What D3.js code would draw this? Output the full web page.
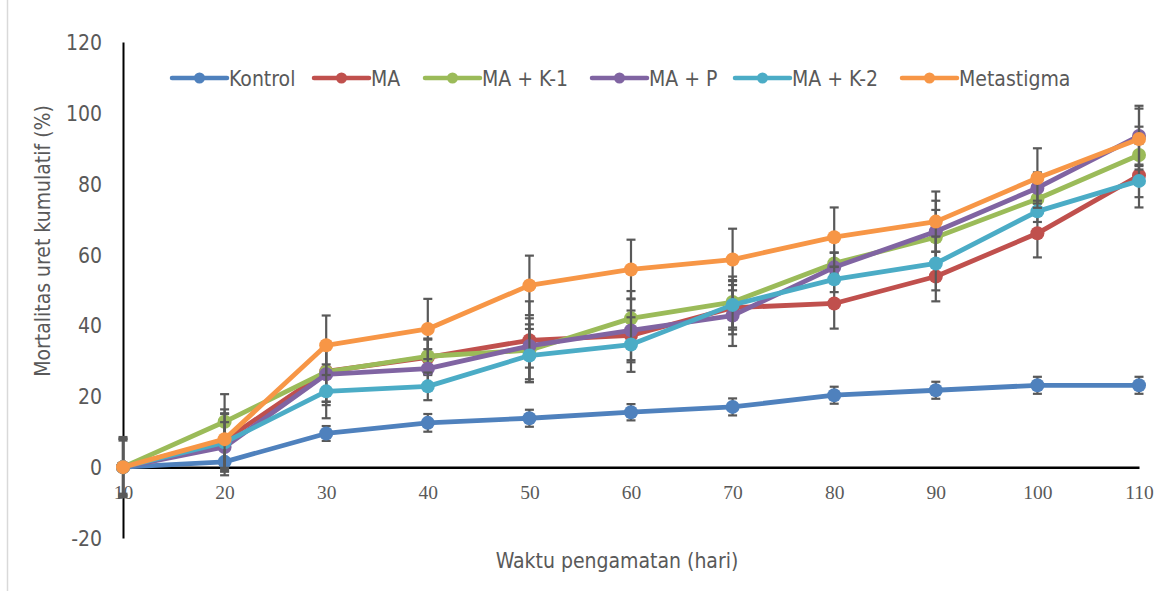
<!DOCTYPE html>
<html>
<head>
<meta charset="utf-8">
<script src="https://cdn.jsdelivr.net/npm/d3@7"></script>
<style>
  html, body { margin: 0; padding: 0; background: #fff; }
  svg { display: block; }
  .sans { font-family: 'DejaVu Sans Condensed', 'DejaVu Sans', sans-serif; font-stretch: condensed; fill: #595959; }
  .serif { font-family: 'Liberation Serif', 'DejaVu Serif', serif; fill: #595959; }
</style>
</head>
<body>
<svg id="chart"></svg>
<script>
// observation days
const days = [10, 20, 30, 40, 50, 60, 70, 80, 90, 100, 110];
const yTicks = [-20, 0, 20, 40, 60, 80, 100, 120];

// cumulative mortality (%) per treatment
const kontrol    = [0, 1.5, 9.5, 12.5, 13.8, 15.5, 17.0, 20.3, 21.7, 23.1, 23.1];
const ma         = [0, 7.5, 27.0, 31.0, 35.8, 37.2, 45.0, 46.2, 53.8, 66.0, 82.3];
const maK1       = [0, 12.8, 26.9, 31.3, 33.0, 42.0, 46.6, 57.5, 64.9, 75.7, 88.1];
const maP        = [0, 5.7, 26.2, 27.8, 34.2, 38.6, 42.8, 56.4, 66.5, 78.8, 93.5];
const maK2       = [0, 7.0, 21.4, 22.8, 31.5, 34.6, 45.8, 53.0, 57.5, 72.2, 80.8];
const metastigma = [0, 7.9, 34.4, 39.0, 51.3, 55.8, 58.6, 64.9, 69.3, 81.6, 92.6];

// error bar half-lengths (±)
const errKontrol    = [0, 3.8, 2.1, 2.5, 2.4, 2.3, 2.4, 2.4, 2.4, 2.4, 2.4];
const errMa         = [8.0, 7.7, 8.5, 5.0, 11.0, 7.0, 7.5, 7.1, 7.0, 6.8, 9.0];
const errMaK1       = [7.5, 7.8, 8.5, 5.0, 9.0, 7.7, 7.2, 3.0, 7.7, 3.0, 8.0];
const errMaP        = [8.5, 7.0, 8.7, 5.5, 6.1, 9.0, 8.6, 4.2, 8.7, 4.4, 8.5];
const errMaK2       = [8.0, 8.0, 7.6, 3.9, 7.5, 7.7, 7.0, 3.6, 7.6, 3.0, 4.6];
const errMetastigma = [0, 8.4, 8.4, 8.5, 8.4, 8.4, 8.7, 8.4, 8.5, 8.4, 8.6];

const seriesNames  = ['Kontrol', 'MA', 'MA + K-1', 'MA + P', 'MA + K-2', 'Metastigma'];
const seriesColors = ['#4f81bd', '#c0504d', '#9bbb59', '#8064a2', '#4bacc6', '#f79646'];
const seriesValues = [kontrol, ma, maK1, maP, maK2, metastigma];
const seriesErrors = [errKontrol, errMa, errMaK1, errMaP, errMaK2, errMetastigma];

const width = 1171, height = 591;
const svg = d3.select('#chart').attr('width', width).attr('height', height);

const x = d3.scaleLinear().domain([10, 110]).range([123, 1139]);
const y = d3.scaleLinear().domain([-20, 120]).range([538, 42]);

// faint chart border on the left
svg.append('line')
  .attr('x1', 7.5).attr('x2', 7.5).attr('y1', 0).attr('y2', height)
  .attr('stroke', '#d9d9d9').attr('stroke-width', 1.5);

// y axis (plain hyphen for negatives, like the original)
const yAxis = svg.append('g')
  .attr('transform', `translate(${x(10)},0)`)
  .call(d3.axisLeft(y).tickValues(yTicks).tickSize(0).tickPadding(21).tickFormat(d => String(d)));
yAxis.select('.domain').attr('stroke', '#000').attr('stroke-width', 2);
yAxis.selectAll('text')
  .attr('class', 'sans')
  .attr('dy', '0.36em')
  .style('font-size', '21px');

// x axis along y = 0
const xAxis = svg.append('g')
  .attr('transform', `translate(0,${y(0)})`)
  .call(d3.axisBottom(x).tickValues(days).tickSize(0).tickPadding(18).tickFormat(d => String(d)));
xAxis.select('.domain').attr('stroke', '#000').attr('stroke-width', 2.5);
xAxis.selectAll('text')
  .attr('class', 'serif')
  .style('font-size', '19.5px');

const rows = seriesNames.map((name, i) => ({
  name,
  color: seriesColors[i],
  points: days.map((d, j) => ({ day: d, value: seriesValues[i][j], err: seriesErrors[i][j] }))
}));

const line = d3.line().x(d => x(d.day)).y(d => y(d.value));

rows.forEach(s => {
  const g = svg.append('g');

  // error bars
  const eb = g.selectAll('g.err')
    .data(s.points.filter(p => p.err > 0))
    .join('g')
    .attr('stroke', '#595959')
    .attr('stroke-width', 2.2);
  eb.append('line')
    .attr('x1', d => x(d.day)).attr('x2', d => x(d.day))
    .attr('y1', d => y(d.value + d.err)).attr('y2', d => y(d.value - d.err));
  eb.append('line')
    .attr('x1', d => x(d.day) - 4.5).attr('x2', d => x(d.day) + 4.5)
    .attr('y1', d => y(d.value + d.err)).attr('y2', d => y(d.value + d.err));
  eb.append('line')
    .attr('x1', d => x(d.day) - 4.5).attr('x2', d => x(d.day) + 4.5)
    .attr('y1', d => y(d.value - d.err)).attr('y2', d => y(d.value - d.err));

  g.append('path')
    .datum(s.points)
    .attr('fill', 'none')
    .attr('stroke', s.color)
    .attr('stroke-width', 4.8)
    .attr('stroke-linejoin', 'round')
    .attr('d', line);

  g.selectAll('circle')
    .data(s.points)
    .join('circle')
    .attr('cx', d => x(d.day))
    .attr('cy', d => y(d.value))
    .attr('r', 7)
    .attr('fill', s.color);
});

// legend
const legendX = [172, 314, 425, 592, 735, 902];
const legend = svg.append('g');
rows.forEach((s, i) => {
  const lg = legend.append('g').attr('transform', `translate(${legendX[i]},78)`);
  lg.append('line')
    .attr('x1', 0).attr('x2', 55).attr('y1', 0).attr('y2', 0)
    .attr('stroke', s.color).attr('stroke-width', 4.5).attr('stroke-linecap', 'round');
  lg.append('circle').attr('cx', 27.5).attr('cy', 0).attr('r', 5.5).attr('fill', s.color);
  lg.append('text')
    .attr('class', 'sans')
    .attr('x', 57).attr('y', 8)
    .style('font-size', '21px')
    .text(s.name);
});

// axis titles
svg.append('text')
  .attr('class', 'sans')
  .attr('x', 617).attr('y', 568)
  .attr('text-anchor', 'middle')
  .style('font-size', '21px')
  .text('Waktu pengamatan (hari)');

svg.append('text')
  .attr('class', 'sans')
  .attr('transform', 'translate(50,241) rotate(-90)')
  .attr('text-anchor', 'middle')
  .style('font-size', '21px')
  .text('Mortalitas uret kumulatif (%)');
</script>
</body>
</html>
